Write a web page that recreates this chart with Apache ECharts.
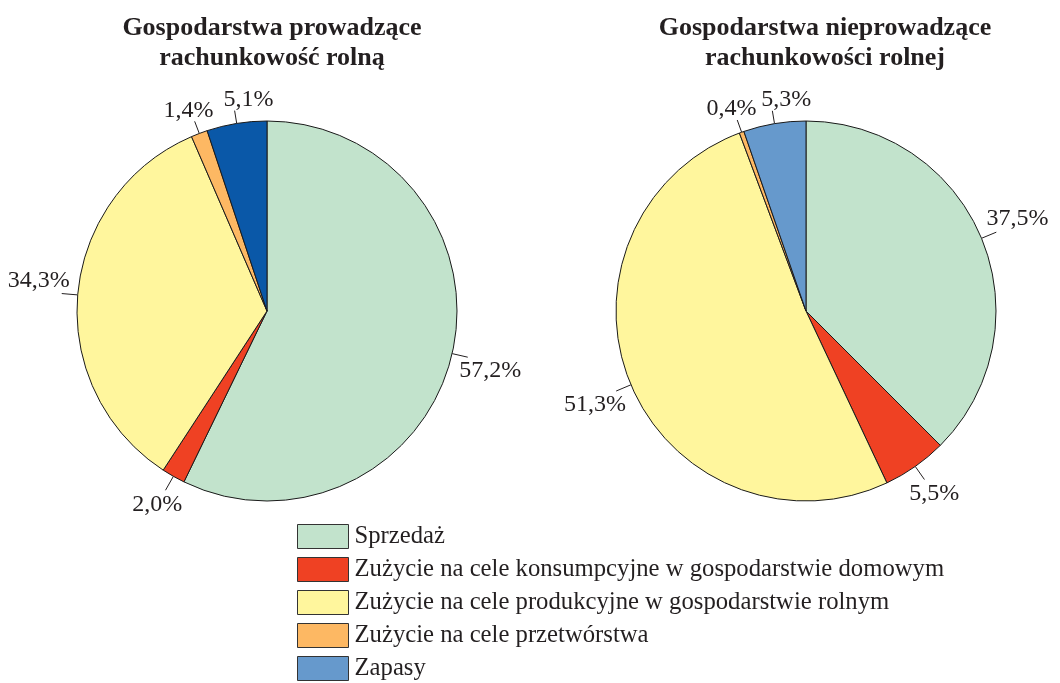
<!DOCTYPE html>
<html>
<head>
<meta charset="utf-8">
<script src="https://cdn.jsdelivr.net/npm/echarts@6/dist/echarts.min.js"></script>
<style>
  html, body { margin: 0; padding: 0; background: #fff; }
  #chart { width: 1060px; height: 683px; }
</style>
</head>
<body>
<div id="chart"></div>
<script>
// kategorie (kolejność zgodnie z ruchem wskazówek zegara od godz. 12)
const categories = [
  'Sprzedaż',
  'Zużycie na cele konsumpcyjne w gospodarstwie domowym',
  'Zużycie na cele produkcyjne w gospodarstwie rolnym',
  'Zużycie na cele przetwórstwa',
  'Zapasy'
]
// udział w %
const prowadzace = [57.2, 2.0, 34.3, 1.4, 5.1]
const nieprowadzace = [37.5, 5.5, 51.3, 0.4, 5.3]

const colorsLeft = ['#c2e3cc', '#ef4123', '#fff69d', '#fdb863', '#0a58a8']
const colorsRight = ['#c2e3cc', '#ef4123', '#fff69d', '#fdb863', '#6699cc']

const serif = '"Liberation Serif", "DejaVu Serif", serif'

function pieData(values, colors) {
  return values.map((v, i) => ({
    name: categories[i],
    value: v,
    itemStyle: { color: colors[i] }
  }))
}

// krótka kreska promieniowa, tekst obok jej końca (nad lub pod)
function placeLabel(params) {
  const pts = params.labelLinePoints
  if (!pts) return {}
  const p0 = pts[0], p1 = pts[1]
  let dx = p1[0] - p0[0], dy = p1[1] - p0[1]
  const len = Math.hypot(dx, dy) || 1
  dx /= len; dy /= len
  const hw = params.labelRect.width / 2
  const nearTop = dy < 0 && Math.abs(dx) < 0.5
  const lineLen = nearTop ? 13 : 16
  const end = [p0[0] + dx * lineLen, p0[1] + dy * lineLen]
  // etykiety prawie pionowo nad środkiem leżą na prawo od kreski
  const shiftX = Math.abs(dx) < 0.25 ? hw - 11 : dx * (hw - 8)
  const shiftY = dy >= 0 ? 14 : (nearTop ? -11 : -13)
  return {
    x: end[0] + shiftX,
    y: end[1] + shiftY,
    align: 'center',
    verticalAlign: 'middle',
    hideOverlap: false,
    labelLinePoints: [p0, end, end]
  }
}

function pieSeries(values, colors, cx) {
  return {
    type: 'pie',
    radius: 190,
    center: [cx, 311],
    startAngle: 90,
    clockwise: true,
    avoidLabelOverlap: false,
    silent: true,
    data: pieData(values, colors),
    itemStyle: { borderColor: '#1a1a1a', borderWidth: 1 },
    label: {
      show: true,
      position: 'outside',
      formatter: p => p.value.toFixed(1).replace('.', ',') + '%',
      fontFamily: serif,
      fontSize: 24,
      color: '#231f20'
    },
    labelLine: {
      show: true,
      length: 16,
      length2: 0,
      smooth: false,
      lineStyle: { color: '#231f20', width: 1 }
    },
    labelLayout: placeLabel
  }
}

const chart = echarts.init(document.getElementById('chart'))
chart.setOption({
  animation: false,
  title: [
    {
      text: 'Gospodarstwa prowadzące\nrachunkowość rolną',
      left: 267, top: 8, textAlign: 'center',
      textStyle: { fontFamily: serif, fontSize: 26, fontWeight: 'bold', color: '#231f20', lineHeight: 30 }
    },
    {
      text: 'Gospodarstwa nieprowadzące\nrachunkowości rolnej',
      left: 820, top: 8, textAlign: 'center',
      textStyle: { fontFamily: serif, fontSize: 26, fontWeight: 'bold', color: '#231f20', lineHeight: 30 }
    }
  ],
  legend: {
    orient: 'vertical',
    left: 297,
    top: 524,
    padding: 0,
    height: 170,
    icon: 'rect',
    itemWidth: 51,
    itemHeight: 24,
    itemGap: 8,
    selectedMode: false,
    data: categories,
    itemStyle: { borderColor: '#333', borderWidth: 1 },
    textStyle: { fontFamily: serif, fontSize: 24.7, color: '#231f20', padding: [0, 0, 0, 1] }
  },
  series: [
    // prawy wykres pierwszy, aby legenda wzięła jaśniejszy niebieski
    pieSeries(nieprowadzace, colorsRight, 806),
    pieSeries(prowadzace, colorsLeft, 267)
  ]
})
</script>
</body>
</html>
